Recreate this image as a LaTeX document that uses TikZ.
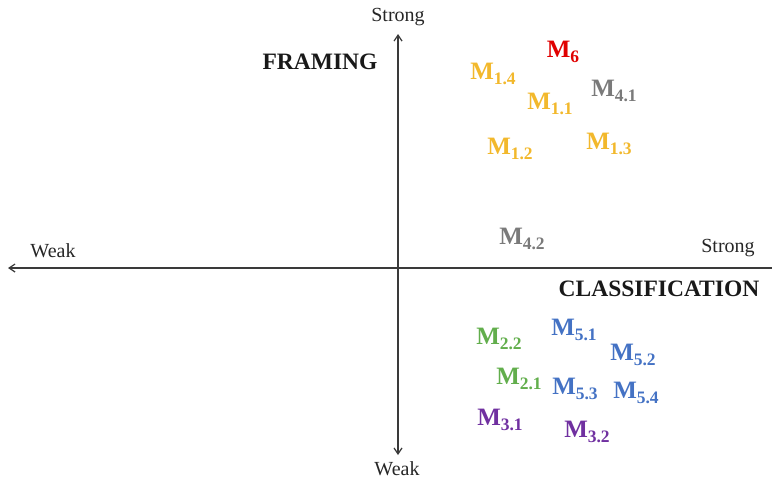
\documentclass[tikz,border=0pt]{standalone}
\usepackage{fontspec}
\setmainfont{Liberation Serif}
\usetikzlibrary{arrows.meta}
\definecolor{cgold}{HTML}{F2B82C}
\definecolor{cred}{HTML}{E00000}
\definecolor{cgray}{HTML}{7A7A7A}
\definecolor{cgreen}{HTML}{62AE4C}
\definecolor{cblue}{HTML}{4472C4}
\definecolor{cpurple}{HTML}{7030A0}
\definecolor{axisc}{HTML}{3A3A3A}
\newcommand{\mlab}[1]{M\raisebox{-0.22em}{\fontsize{17.5}{18}\selectfont #1}}
\tikzset{
  axisline/.style={draw=axisc, line width=1.2pt, -{Straight Barb[length=6pt,width=8pt]}},
  endlabel/.style={font=\fontsize{20}{22}\selectfont, text=black!85},
  axistitle/.style={font=\fontsize{23.5}{26}\selectfont\bfseries, text=black!90},
  mnode/.style={font=\fontsize{25}{28}\selectfont\bfseries, inner sep=0pt}
}
\begin{document}
\begin{tikzpicture}[x=1pt,y=-1pt]
\useasboundingbox (0,0) rectangle (772,485);
% axes
\coordinate (xr) at (772,268);
\coordinate (xl) at (8,268);
\coordinate (yb) at (398,455);
\coordinate (yt) at (398,34);
\draw[axisline] (xr) -- (xl);
\draw[axisline] (398,268) -- (yt);
\draw[axisline] (398,268) -- (yb);
% axis end labels and titles
\node[endlabel] (ystrong) at (398,17) {Strong};
\node[endlabel] (yweak) at (397,469) {Weak};
\node[endlabel] (xweak) at (53,251) {Weak};
\node[endlabel] (xstrong) at (728,248) {Strong};
\node[axistitle] (framing) at (320,62) {FRAMING};
\node[axistitle] (classif) at (659,289) {CLASSIFICATION};
% items
\node[mnode, text=cred] (m6) at (563,52) {\mlab{6}};
\node[mnode, text=cgold] (m14) at (493,74) {\mlab{1.4}};
\node[mnode, text=cgray] (m41) at (614,91) {\mlab{4.1}};
\node[mnode, text=cgold] (m11) at (550,104) {\mlab{1.1}};
\node[mnode, text=cgold] (m12) at (510,149) {\mlab{1.2}};
\node[mnode, text=cgold] (m13) at (609,144) {\mlab{1.3}};
\node[mnode, text=cgray] (m42) at (522,239) {\mlab{4.2}};
\node[mnode, text=cgreen] (m22) at (499,339) {\mlab{2.2}};
\node[mnode, text=cblue] (m51) at (574,330) {\mlab{5.1}};
\node[mnode, text=cblue] (m52) at (633,355) {\mlab{5.2}};
\node[mnode, text=cgreen] (m21) at (519,379) {\mlab{2.1}};
\node[mnode, text=cblue] (m53) at (575,389) {\mlab{5.3}};
\node[mnode, text=cblue] (m54) at (636,393) {\mlab{5.4}};
\node[mnode, text=cpurple] (m31) at (500,420) {\mlab{3.1}};
\node[mnode, text=cpurple] (m32) at (587,432) {\mlab{3.2}};
\end{tikzpicture}
\end{document}
